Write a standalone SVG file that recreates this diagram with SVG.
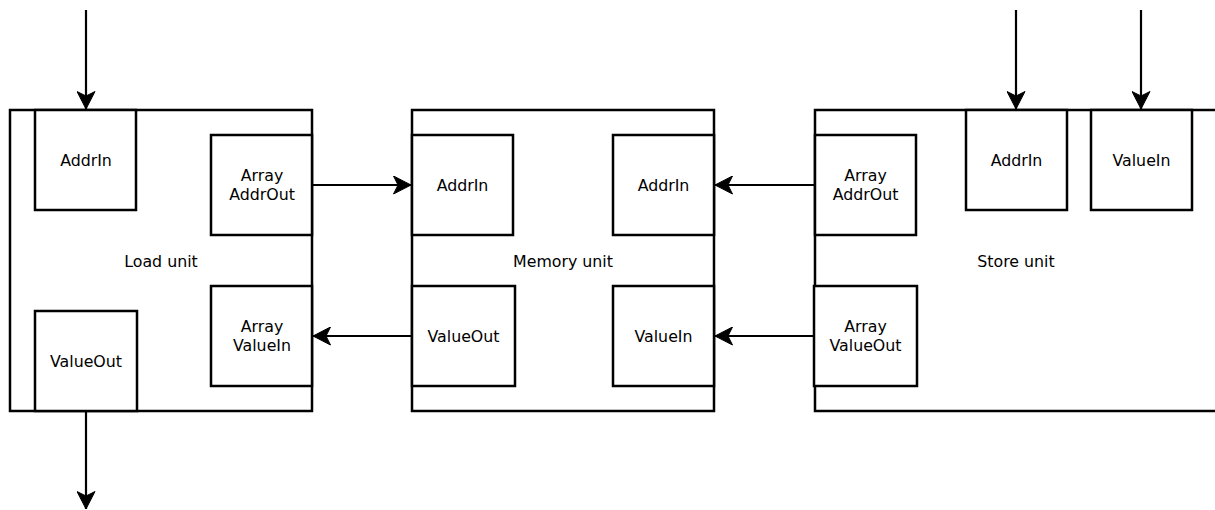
<svg xmlns="http://www.w3.org/2000/svg" width="1215" height="510" viewBox="0 0 1215 510">
<style>
.box{fill:#fff;stroke:#000;stroke-width:2.5}
.lbl{font-family:"DejaVu Sans",sans-serif;font-size:15.8px;fill:#000;text-anchor:middle;dominant-baseline:central}
.edge{fill:none;stroke:#000;stroke-width:2.2;marker-end:url(#arr)}
</style>
<defs>
<marker id="arr" markerUnits="userSpaceOnUse" viewBox="0 0 19 19" refX="18" refY="9.5" markerWidth="19" markerHeight="19" orient="auto">
<path d="M0.5,0.5 L18,9.5 L0.5,18.5 L5,9.5 Z" fill="#000" stroke="#000" stroke-width="1"/>
</marker>
</defs>
<rect width="1215" height="510" fill="#fff"/>
<g id="load-unit">
<rect class="box" x="10" y="110" width="302" height="301"/>
<text class="lbl" x="161" y="261">Load unit</text>
</g>
<g id="load-addrin">
<rect class="box" x="35" y="110" width="101" height="100"/>
<text class="lbl" x="86" y="160">AddrIn</text>
</g>
<g id="load-array-addrout">
<rect class="box" x="211" y="135" width="101" height="100"/>
<text class="lbl" x="262" y="175">Array</text>
<text class="lbl" x="262" y="194.5">AddrOut</text>
</g>
<g id="load-array-valuein">
<rect class="box" x="211" y="286" width="101" height="100"/>
<text class="lbl" x="262" y="326">Array</text>
<text class="lbl" x="262" y="345.5">ValueIn</text>
</g>
<g id="load-valueout">
<rect class="box" x="35" y="311" width="102" height="100"/>
<text class="lbl" x="86" y="361">ValueOut</text>
</g>
<g id="memory-unit">
<rect class="box" x="412" y="110" width="302" height="301"/>
<text class="lbl" x="563" y="261">Memory unit</text>
</g>
<g id="mem-addrin-left">
<rect class="box" x="412" y="135" width="101" height="100"/>
<text class="lbl" x="462.5" y="185">AddrIn</text>
</g>
<g id="mem-valueout">
<rect class="box" x="412" y="286" width="103" height="100"/>
<text class="lbl" x="463.5" y="336">ValueOut</text>
</g>
<g id="mem-addrin-right">
<rect class="box" x="613" y="135" width="101" height="100"/>
<text class="lbl" x="663.5" y="185">AddrIn</text>
</g>
<g id="mem-valuein">
<rect class="box" x="613" y="286" width="101" height="100"/>
<text class="lbl" x="663.5" y="336">ValueIn</text>
</g>
<g id="store-unit">
<rect class="box" x="815" y="110" width="402" height="301"/>
<text class="lbl" x="1016" y="261">Store unit</text>
</g>
<g id="store-addrin">
<rect class="box" x="966" y="110" width="101" height="100"/>
<text class="lbl" x="1016.5" y="160">AddrIn</text>
</g>
<g id="store-valuein">
<rect class="box" x="1091" y="110" width="101" height="100"/>
<text class="lbl" x="1141.5" y="160">ValueIn</text>
</g>
<g id="store-array-addrout">
<rect class="box" x="815" y="135" width="101" height="100"/>
<text class="lbl" x="865.5" y="175">Array</text>
<text class="lbl" x="865.5" y="194.5">AddrOut</text>
</g>
<g id="store-array-valueout">
<rect class="box" x="814" y="286" width="103" height="100"/>
<text class="lbl" x="865.5" y="326">Array</text>
<text class="lbl" x="865.5" y="345.5">ValueOut</text>
</g>
<g id="connectors">
<path class="edge" d="M86,10 L86,109"/>
<path class="edge" d="M86,412 L86,509"/>
<path class="edge" d="M313,185 L411,185"/>
<path class="edge" d="M411,336 L313,336"/>
<path class="edge" d="M814,185 L715,185"/>
<path class="edge" d="M814,336 L715,336"/>
<path class="edge" d="M1016,10 L1016,109"/>
<path class="edge" d="M1141,10 L1141,109"/>
</g>
</svg>
